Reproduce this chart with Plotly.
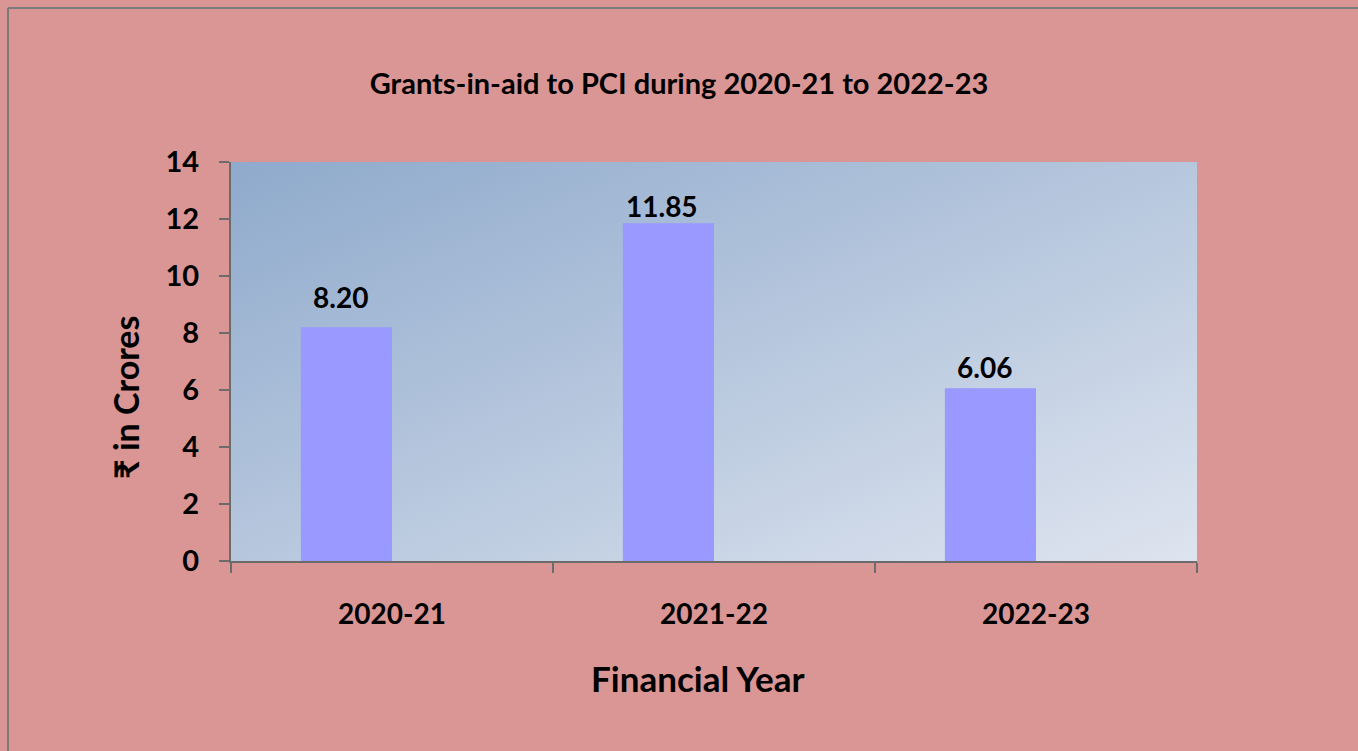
import base64
import plotly.graph_objects as go

# data
years = ["2020-21", "2021-22", "2022-23"]
grants = [8.20, 11.85, 6.06]

# style: pixel offset of each value label above its bar
label_shift = [30, 17, 21]

W, H = 1358, 751
L, R, T, B = 231, 161, 162, 190
FONT = "Lato"
PINK = "#DA9694"
AXIS = "#6b6b6b"
BAR_W = 0.283  # fraction of a category; bars sit left of the category centre

# diagonal gradient for the plot area (svg data uri as a layout image)
svg = ('<svg xmlns="http://www.w3.org/2000/svg" width="966" height="399" '
       'viewBox="0 0 966 399" preserveAspectRatio="none">'
       '<defs><linearGradient id="g" x1="0" y1="0" x2="1" y2="1">'
       '<stop offset="0" stop-color="#8FAACC"/>'
       '<stop offset="1" stop-color="#DEE4EF"/>'
       '</linearGradient></defs>'
       '<rect width="966" height="399" fill="url(#g)"/></svg>')
bg_src = "data:image/svg+xml;base64," + base64.b64encode(svg.encode()).decode()

pw, ph = W - L - R, H - T - B
cat_px = pw / len(years)

fig = go.Figure()
fig.add_trace(go.Bar(
    x=years, y=grants,
    width=BAR_W, offset=-BAR_W,
    marker=dict(color="#9999FF", line=dict(width=0)),
    hoverinfo="x+y",
))

annots = []
for yr, v, s in zip(years, grants, label_shift):
    annots.append(dict(
        x=yr, y=v, xref="x", yref="y", text=f"{v:.2f}", showarrow=False,
        xanchor="center", yanchor="middle",
        xshift=-BAR_W * cat_px / 2 - 6, yshift=s,
        font=dict(family=FONT, size=28, color="black", weight="bold"),
    ))
# axis titles
annots.append(dict(
    x=(697 - L) / pw, y=1 - (678 - T) / ph, xref="paper", yref="paper",
    xanchor="center", yanchor="middle",
    text="Financial Year", showarrow=False,
    font=dict(family=FONT, size=35, color="black", weight="bold"),
))
annots.append(dict(
    x=(125 - L) / pw, y=1 - (398 - T) / ph, xref="paper", yref="paper",
    xanchor="center", yanchor="middle",
    text="₹ in Crores", showarrow=False, textangle=-90,
    font=dict(family=FONT, size=34, color="black", weight="bold"),
))

fig.update_layout(
    width=W, height=H,
    margin=dict(l=L, r=R, t=T, b=B),
    paper_bgcolor=PINK,
    plot_bgcolor="#B8C7DD",
    showlegend=False,
    title=dict(
        text="Grants-in-aid to PCI during 2020-21 to 2022-23",
        x=0.5, xanchor="center", xref="container",
        y=1 - 84 / H, yanchor="middle", yref="container",
        font=dict(family=FONT, size=29, color="black", weight="bold"),
    ),
    xaxis=dict(
        type="category", showgrid=False, zeroline=False,
        showline=True, linecolor=AXIS, linewidth=2,
        ticks="outside", tickson="boundaries", ticklen=10, tickcolor=AXIS, tickwidth=2,
        ticklabelstandoff=27,
        tickfont=dict(family=FONT, size=28, color="black", weight="bold"),
    ),
    yaxis=dict(
        range=[0, 14], dtick=2, showgrid=False, zeroline=False,
        showline=True, linecolor=AXIS, linewidth=2,
        ticks="outside", ticklen=10, tickcolor=AXIS, tickwidth=2,
        ticklabelstandoff=14,
        tickfont=dict(family=FONT, size=29, color="black", weight="bold"),
    ),
    images=[dict(
        source=bg_src, xref="paper", yref="paper", x=0, y=1, sizex=1, sizey=1,
        xanchor="left", yanchor="top", sizing="stretch", layer="below",
    )],
    annotations=annots,
    shapes=[
        dict(type="line", xref="paper", yref="paper",
             x0=(8 - L) / pw, x1=(W + 20 - L) / pw, y0=1 + (T - 8) / ph, y1=1 + (T - 8) / ph,
             line=dict(color="#7a7a7a", width=2)),
        dict(type="line", xref="paper", yref="paper",
             x0=(8 - L) / pw, x1=(8 - L) / pw, y0=1 + (T - 8) / ph, y1=-(B + 20) / ph,
             line=dict(color="#7a7a7a", width=2)),
    ],
)

# page has an 8px body margin by default; drop it so the figure fills the window
fig.write_html("out.html", config={"displayModeBar": False}, post_script=(
    "document.body.style.margin='0';"
    "document.body.style.overflow='hidden';"
    "document.body.style.background='" + PINK + "';"
))
